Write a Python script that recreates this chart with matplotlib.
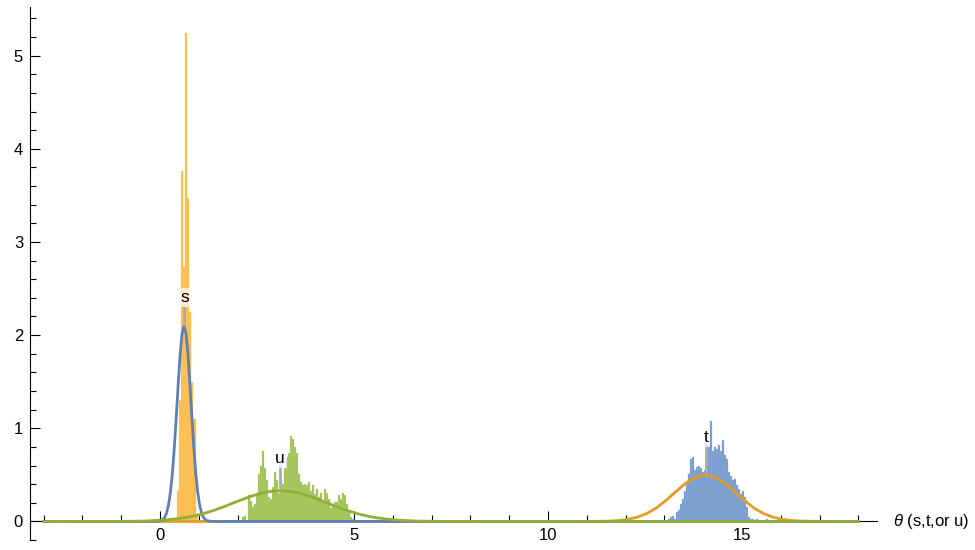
import numpy as np
import matplotlib
matplotlib.use("Agg")
import matplotlib.pyplot as plt
from matplotlib.ticker import MultipleLocator

plt.rcParams['font.family'] = ['Liberation Sans', 'DejaVu Sans']
plt.rcParams['mathtext.fontset'] = 'custom'
plt.rcParams['mathtext.it'] = 'Liberation Sans:italic'

# ---- histogram data (density) ----
s_start, s_width = 0.43, 0.054
s_heights = [0.33, 1.30, 3.76, 2.73, 5.24, 3.47, 2.25, 1.50, 1.10, 0.08]

u_start, u_width = 2.105, 0.0515
u_heights = [0.05, 0.06, 0.01, 0.28, 0.22, 0.15, 0.19, 0.28, 0.51, 0.60,
             0.76, 0.57, 0.44, 0.26, 0.24, 0.37, 0.53, 0.44, 0.31, 0.33,
             0.40, 0.57, 0.69, 0.74, 0.92, 0.89, 0.80, 0.74, 0.51, 0.42,
             0.39, 0.40, 0.39, 0.42, 0.33, 0.39, 0.30, 0.35, 0.26, 0.31,
             0.23, 0.35, 0.31, 0.24, 0.14, 0.19, 0.21, 0.21, 0.28, 0.24,
             0.31, 0.28, 0.19, 0.10, 0.05, 0.03]

t_start, t_width = 13.10, 0.0515
t_heights = [0.03, 0.05, 0.06, 0.03, 0.10, 0.12, 0.19, 0.24, 0.33, 0.42,
             0.51, 0.67, 0.69, 0.55, 0.58, 0.60, 0.57, 0.53, 0.55, 0.76,
             0.82, 1.08, 0.76, 0.80, 0.78, 0.82, 0.76, 0.87, 0.71, 0.67,
             0.53, 0.49, 0.44, 0.46, 0.39, 0.35, 0.30, 0.33, 0.26, 0.15,
             0.05, 0.03, 0.03, 0.02, 0.03, 0.02, 0.01, 0.01, 0.01, 0.03,
             0.01]

# ---- fitted curves ----
s_curve_x = [-3.0, -0.18, -0.08, 0.02, 0.07, 0.12, 0.17, 0.22, 0.27, 0.32, 0.37,
             0.42, 0.47, 0.52, 0.57, 0.62, 0.67, 0.72, 0.77, 0.82, 0.87, 0.92,
             0.97, 1.02, 1.07, 1.12, 1.17, 1.22, 1.32, 1.42, 18.0]
s_curve_y = [0, 0, 0.001, 0.008, 0.020, 0.044, 0.092, 0.18, 0.32, 0.52, 0.80,
             1.13, 1.48, 1.80, 2.02, 2.10, 2.02, 1.80, 1.48, 1.13, 0.80, 0.52,
             0.32, 0.18, 0.092, 0.044, 0.020, 0.008, 0.001, 0, 0]

u_curve_x = [-3.0, -0.9, -0.4, 0.1, 0.6, 0.85, 1.1, 1.35, 1.6, 1.85, 2.1, 2.35,
             2.6, 2.85, 3.1, 3.35, 3.6, 3.85, 4.1, 4.35, 4.6, 4.85, 5.1, 5.35,
             5.6, 6.1, 6.6, 7.1, 8.1, 18.0]
u_curve_y = [0, 0.0013, 0.0047, 0.0145, 0.038, 0.057, 0.082, 0.114, 0.151,
             0.192, 0.233, 0.271, 0.303, 0.323, 0.330, 0.323, 0.303, 0.271,
             0.233, 0.192, 0.151, 0.114, 0.082, 0.057, 0.038, 0.0145, 0.0047,
             0.0013, 0, 0]

t_curve_x = [-3.0, 10.05, 11.05, 11.55, 11.8, 12.05, 12.3, 12.55, 12.8, 13.05,
             13.3, 13.55, 13.8, 14.05, 14.3, 14.55, 14.8, 15.05, 15.3, 15.55,
             15.8, 16.05, 16.3, 16.55, 17.05, 18.0]
t_curve_y = [0, 0, 0.0004, 0.0038, 0.0096, 0.022, 0.046, 0.086, 0.147, 0.229,
             0.322, 0.411, 0.476, 0.500, 0.476, 0.411, 0.322, 0.229, 0.147,
             0.086, 0.046, 0.022, 0.0096, 0.0038, 0.0004, 0]

# labels: text, x, y of label, bottom of pointer line
callouts = [("s", 0.63, 2.40, 2.12), ("u", 3.09, 0.68, 0.36), ("t", 14.07, 0.90, 0.53)]


def edges(start, width, n):
    return [start + i * width for i in range(n)]


fig = plt.figure(figsize=(9.75, 5.5), dpi=100)
ax = fig.add_axes([0.0308, 0.018, 0.8687, 0.969])

ax.bar(edges(s_start, s_width, len(s_heights)), s_heights, width=s_width, align='edge',
       color='#FFB93F', edgecolor='#FFD58A', linewidth=0.25, zorder=2)
ax.bar(edges(u_start, u_width, len(u_heights)), u_heights, width=u_width, align='edge',
       color='#9DC052', edgecolor='#C3DA8E', linewidth=0.25, zorder=2)
ax.bar(edges(t_start, t_width, len(t_heights)), t_heights, width=t_width, align='edge',
       color='#7397CB', edgecolor='#A9C0E2', linewidth=0.25, zorder=2)

ax.plot(t_curve_x, t_curve_y, color='#E19C24', lw=2.0, zorder=3)
ax.plot(s_curve_x, s_curve_y, color='#5E81B5', lw=2.0, zorder=3)
ax.plot(u_curve_x, u_curve_y, color='#8FB032', lw=2.0, zorder=4)

for txt, x, y, y0 in callouts:
    ax.plot([x, x], [y0, y - 0.08], color='#AAAAAA', lw=2, zorder=5)
    ax.text(x, y, txt, ha='center', va='center', fontsize=12.5, zorder=6,
            bbox=dict(facecolor='white', edgecolor='none', alpha=0.7, pad=1.5))

ax.set_xlim(-3.35, 18.48)
ax.set_ylim(-0.2, 5.52)

for side in ['top', 'right']:
    ax.spines[side].set_visible(False)
ax.spines['bottom'].set_position(('data', 0))
ax.spines['bottom'].set_zorder(1)

ax.set_xticks([0, 5, 10, 15])
ax.xaxis.set_minor_locator(MultipleLocator(1))
ax.set_yticks([0, 1, 2, 3, 4, 5])
ax.yaxis.set_minor_locator(MultipleLocator(0.2))
ax.tick_params(axis='both', which='major', direction='in', length=7, width=0.8,
               labelsize=12, pad=5)
ax.tick_params(axis='both', which='minor', direction='in', length=4, width=0.8)

ax.text(18.9, 0, r'$\theta$ (s,t,or u)', ha='left', va='center', fontsize=12,
        clip_on=False)

fig.savefig('out.png', dpi=100)
